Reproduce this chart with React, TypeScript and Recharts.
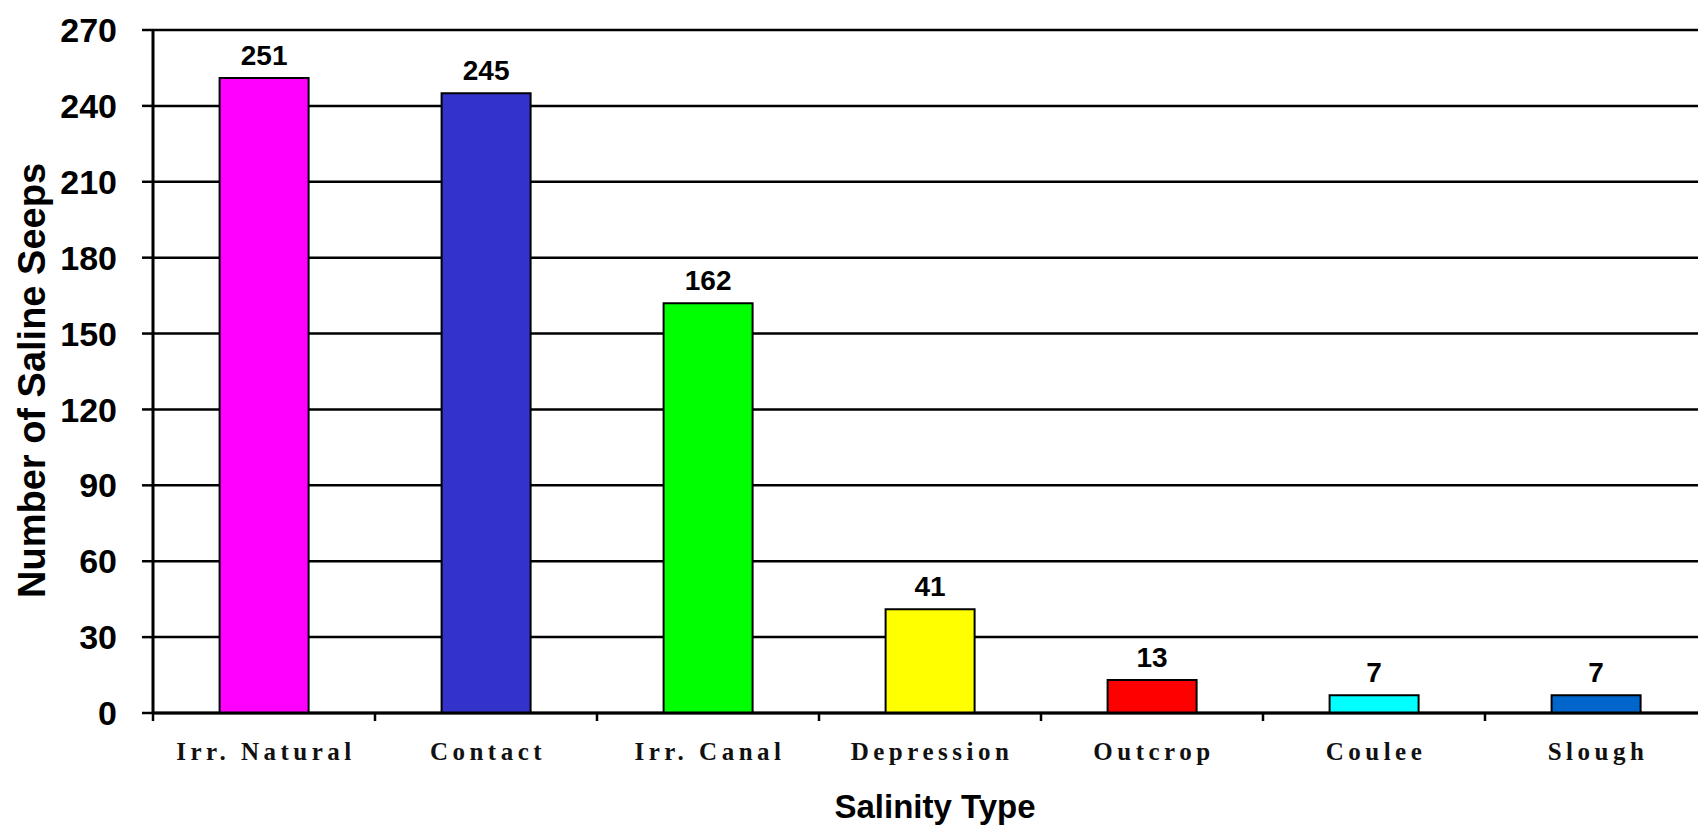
import React from 'react';
import {
  BarChart,
  Bar,
  Cell,
  XAxis,
  YAxis,
  CartesianGrid,
  LabelList,
  Label,
} from 'recharts';

const categories = ['Irr. Natural', 'Contact', 'Irr. Canal', 'Depression', 'Outcrop', 'Coulee', 'Slough'];
const seepCounts = [251, 245, 162, 41, 13, 7, 7];
const barColors = ['#ff00ff', '#3333cc', '#00ff00', '#ffff00', '#ff0000', '#00ffff', '#0066cc'];
const yTicks = [0, 30, 60, 90, 120, 150, 180, 210, 240, 270];

const data = categories.map((name, i) => ({ name, value: seepCounts[i] }));

const SANS = "'Liberation Sans', Arial, sans-serif";
const SERIF = "'Liberation Serif', 'Times New Roman', serif";

// category label plus a small tick at the left edge of each band
const CategoryTick = (props: any) => {
  const { x, y, payload } = props;
  const off = payload?.offset ?? 111;
  return (
    <g>
      <line x1={x - off} y1={y} x2={x - off} y2={y + 8} stroke="#000" strokeWidth={2.5} />
      <text
        x={x + 2}
        y={y + 47}
        textAnchor="middle"
        fontFamily={SERIF}
        fontWeight="bold"
        fontSize={25}
        letterSpacing={4.5}
        fill="#111"
      >
        {payload.value}
      </text>
    </g>
  );
};

export default function App() {
  return (
    <div
      style={{
        position: 'absolute',
        left: 0,
        top: 0,
        width: 1698,
        height: 828,
        overflow: 'hidden',
        background: '#fff',
      }}
    >
      <BarChart
        width={1710}
        height={828}
        data={data}
        margin={{ top: 30, right: 3, bottom: 0, left: 0 }}
        barCategoryGap="30%"
      >
        <CartesianGrid vertical={false} stroke="#000" strokeWidth={2.5} />
        <XAxis
          dataKey="name"
          height={115}
          tickSize={0}
          tickMargin={0}
          tickLine={false}
          axisLine={{ stroke: '#000', strokeWidth: 3 }}
          tick={<CategoryTick />}
          interval={0}
        >
          <Label
            content={(p: any) => {
              const vb = p.viewBox;
              return (
                <text
                  x={vb.x + vb.width / 2 + 5}
                  y={vb.y + 105}
                  textAnchor="middle"
                  fontFamily={SANS}
                  fontWeight="bold"
                  fontSize={33}
                  fill="#000"
                >
                  Salinity Type
                </text>
              );
            }}
          />
        </XAxis>
        <YAxis
          width={153}
          domain={[0, 270]}
          ticks={yTicks}
          interval={0}
          tickSize={11}
          tickMargin={25}
          axisLine={{ stroke: '#000', strokeWidth: 3 }}
          tickLine={{ stroke: '#000', strokeWidth: 2.5 }}
          tick={{ fontFamily: SANS, fontWeight: 'bold', fontSize: 34, fill: '#000' }}
        >
          <Label
            content={(p: any) => {
              const vb = p.viewBox;
              const cx = vb.x + 45;
              const cy = vb.y + vb.height / 2 + 9;
              return (
                <text
                  x={cx}
                  y={cy}
                  transform={`rotate(-90 ${cx} ${cy})`}
                  textAnchor="middle"
                  fontFamily={SANS}
                  fontWeight="bold"
                  fontSize={38}
                  fill="#000"
                >
                  Number of Saline Seeps
                </text>
              );
            }}
          />
        </YAxis>
        <Bar dataKey="value" stroke="#000" strokeWidth={2} isAnimationActive={false}>
          {data.map((_, i) => (
            <Cell key={`cell-${i}`} fill={barColors[i % barColors.length]} />
          ))}
          <LabelList
            dataKey="value"
            position="top"
            offset={13}
            fontFamily={SANS}
            fontWeight="bold"
            fontSize={28}
            fill="#000"
          />
        </Bar>
      </BarChart>
    </div>
  );
}
